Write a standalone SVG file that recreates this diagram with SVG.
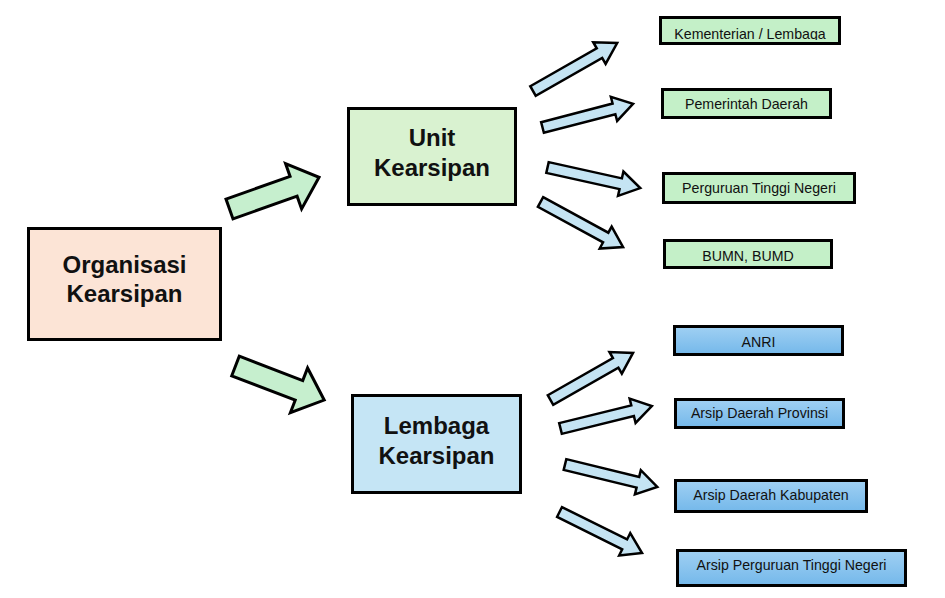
<svg xmlns="http://www.w3.org/2000/svg" xmlns:xlink="http://www.w3.org/1999/xlink" width="945" height="598" viewBox="0 0 945 598">
<style>
.box{stroke:#000;stroke-width:3}
.big{font-family:"Liberation Sans",Arial,sans-serif;font-weight:bold;font-size:24px;fill:#111;text-anchor:middle}
.small{font-family:"Liberation Sans",Arial,sans-serif;font-size:14.2px;fill:#111;text-anchor:middle}
.garrow{fill:#c6efce;stroke:#000;stroke-width:3;stroke-linejoin:miter}
.barrow{fill:#c5e4f3;stroke:#000;stroke-width:2.5;stroke-linejoin:miter}
.sg{fill:#c4f0c8}
.sb{fill:url(#bluegrad)}
</style>
<defs>
<linearGradient id="bluegrad" x1="0" y1="0" x2="0" y2="1">
<stop offset="0" stop-color="#a0d0f3"/>
<stop offset="1" stop-color="#74b8ea"/>
</linearGradient>
<polygon id="bigArrow" points="0,-10.5 68,-10.5 68,-24 95,0 68,24 68,10.5 0,10.5"/>
<polygon id="thinArrow" points="0,-5.5 75,-5.5 75,-12.5 95,0 75,12.5 75,5.5 0,5.5"/>
<clipPath id="clipKem"><rect x="662" y="19" width="176" height="21"/></clipPath>
</defs>
<rect width="945" height="598" fill="#fff"/>

<g id="connectors">
<use xlink:href="#bigArrow" href="#bigArrow" class="garrow" transform="translate(229.5,209) rotate(-19.5)"/>
<use xlink:href="#bigArrow" href="#bigArrow" class="garrow" transform="translate(235.5,366) rotate(21)"/>
<use xlink:href="#thinArrow" href="#thinArrow" class="barrow" transform="translate(533,91) rotate(-29.7) scale(1.02,1)"/>
<use xlink:href="#thinArrow" href="#thinArrow" class="barrow" transform="translate(542.5,127.5) rotate(-14.6) scale(0.985,1)"/>
<use xlink:href="#thinArrow" href="#thinArrow" class="barrow" transform="translate(547.5,167.5) rotate(12.5)"/>
<use xlink:href="#thinArrow" href="#thinArrow" class="barrow" transform="translate(540.5,202) rotate(28.6) scale(0.99,1)"/>
<use xlink:href="#thinArrow" href="#thinArrow" class="barrow" transform="translate(550.5,400) rotate(-29.7)"/>
<use xlink:href="#thinArrow" href="#thinArrow" class="barrow" transform="translate(560.5,428.5) rotate(-13.8) scale(0.99,1)"/>
<use xlink:href="#thinArrow" href="#thinArrow" class="barrow" transform="translate(565,464.5) rotate(13.7)"/>
<use xlink:href="#thinArrow" href="#thinArrow" class="barrow" transform="translate(559.5,512) rotate(26.4) scale(0.97,1)"/>
</g>

<g id="organisasi">
<rect class="box" x="28.5" y="228.5" width="192" height="111" fill="#fce4d6"/>
<text class="big" x="124.5" y="272.5">Organisasi</text>
<text class="big" x="124.5" y="301.5">Kearsipan</text>
</g>

<g id="unit">
<rect class="box" x="348.5" y="108.5" width="167" height="96" fill="#d9f2d0"/>
<text class="big" x="432" y="145.5">Unit</text>
<text class="big" x="432" y="175.5">Kearsipan</text>
</g>

<g id="lembaga">
<rect class="box" x="352.5" y="395.5" width="168" height="97" fill="#c5e5f5"/>
<text class="big" x="436.5" y="433.5">Lembaga</text>
<text class="big" x="436.5" y="463.5">Kearsipan</text>
</g>

<g id="kementerian">
<rect class="box sg" x="660.5" y="17.5" width="179" height="26"/>
<text class="small" x="750" y="38.5" clip-path="url(#clipKem)">Kementerian / Lembaga</text>
</g>
<g id="pemerintah">
<rect class="box sg" x="662.5" y="89.5" width="168" height="28"/>
<text class="small" x="746.5" y="109">Pemerintah Daerah</text>
</g>
<g id="ptn">
<rect class="box sg" x="663.5" y="173.5" width="191" height="29"/>
<text class="small" x="759" y="193">Perguruan Tinggi Negeri</text>
</g>
<g id="bumn">
<rect class="box sg" x="664.5" y="240.5" width="167" height="27"/>
<text class="small" x="748" y="260.5">BUMN, BUMD</text>
</g>

<g id="anri">
<rect class="box sb" x="674.5" y="326.5" width="168" height="28"/>
<text class="small" x="758.5" y="346.5">ANRI</text>
</g>
<g id="provinsi">
<rect class="box sb" x="675.5" y="399.5" width="168" height="28"/>
<text class="small" x="759.5" y="418">Arsip Daerah Provinsi</text>
</g>
<g id="kabupaten">
<rect class="box sb" x="675.5" y="480.5" width="191" height="31"/>
<text class="small" x="771" y="500">Arsip Daerah Kabupaten</text>
</g>
<g id="aptn">
<rect class="box sb" x="677.5" y="550.5" width="228" height="35"/>
<text class="small" x="791.5" y="570">Arsip Perguruan Tinggi Negeri</text>
</g>
</svg>
